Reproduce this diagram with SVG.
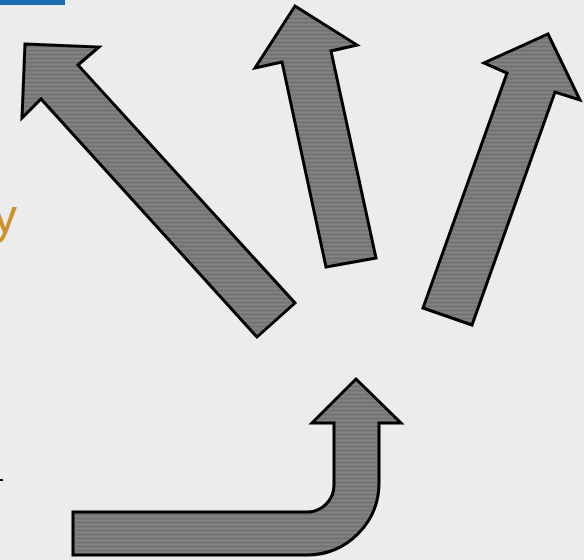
<svg xmlns="http://www.w3.org/2000/svg" width="584" height="560" viewBox="0 0 584 560">
  <defs>
    <pattern id="tex" width="4" height="4" patternUnits="userSpaceOnUse">
      <rect width="4" height="4" fill="#7a7a7a"/>
      <rect width="4" height="1" fill="#848484"/>
      <rect y="2" width="4" height="1" fill="#727272"/>
    </pattern>
  </defs>
  <style>
    .arrow { fill: url(#tex); stroke: #000; stroke-width: 3; stroke-linejoin: miter; }
    .txt { font-family: "Liberation Sans", Arial, sans-serif; }
  </style>
  <rect width="584" height="560" fill="#ececec"/>
  <rect x="0" y="0" width="65" height="5" fill="#1c6bb0"/>
  <text class="txt" x="-7" y="233" font-size="48" fill="#c9922b">y</text>
  <text class="txt" x="-4" y="486" font-size="24" fill="#000">-</text>
  <g id="arrow-nw">
    <polygon class="arrow" points="25,44 99,47 78,65 295,303 257,337 41,99 22,118"/>
  </g>
  <g id="arrow-n">
    <polygon class="arrow" points="295,6 357,45 331,51 376,258 326,267 282,62 255,68"/>
  </g>
  <g id="arrow-ne">
    <polygon class="arrow" points="548,34 580,100 555,92 472,325 423,308 507,73 484,63"/>
  </g>
  <g id="arrow-bent">
    <path class="arrow" d="M356,379 L401,423 L379,423 L379,483 A72,72 0 0 1 307,555 L73,555 L73,512 L307,512 A27,27 0 0 0 334,485 L334,423 L312,423 Z"/>
  </g>
  <g id="connectors"></g>
</svg>
